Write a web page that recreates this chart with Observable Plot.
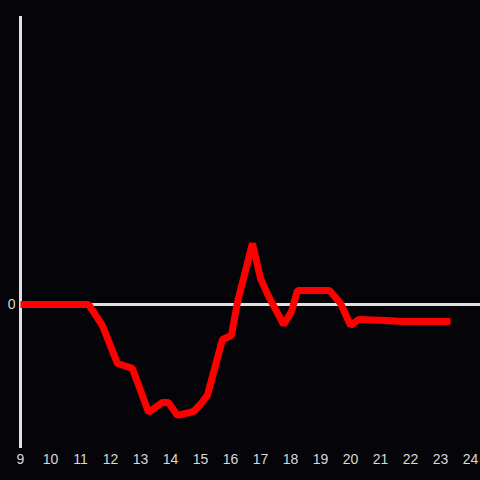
<!DOCTYPE html>
<html>
<head>
<meta charset="utf-8">
<script src="https://cdn.jsdelivr.net/npm/d3@7"></script>
<script src="https://cdn.jsdelivr.net/npm/@observablehq/plot@0.6"></script>
<style>
  html, body { margin: 0; padding: 0; background: #050408; }
  #chart { width: 480px; height: 480px; }
</style>
</head>
<body>
<div id="chart"></div>
<script>
const hours = [9, 11.27, 11.73, 12.23, 12.73, 13.27, 13.73, 13.93, 14.23, 14.77, 14.97, 15.23, 15.73, 16.03, 16.23, 16.73, 17.0, 17.27, 17.77, 18.03, 18.23, 19.3, 19.67, 20.0, 20.27, 21.17, 21.73, 23.33];
const values = [0, 0, -0.146, -0.41, -0.444, -0.75, -0.68, -0.68, -0.77, -0.743, -0.70, -0.63, -0.243, -0.215, 0.014, 0.424, 0.18, 0.056, -0.14, -0.05, 0.097, 0.097, 0.007, -0.146, -0.104, -0.111, -0.118, -0.118];
const xTicks = [9, 10, 11, 12, 13, 14, 15, 16, 17, 18, 19, 20, 21, 22, 23, 24];
const yTicks = [0];

const data = hours.map((h, i) => ({hour: h, value: values[i]}));

const chart = Plot.plot({
  width: 480,
  height: 480,
  marginLeft: 20,
  marginRight: 0,
  marginTop: 16,
  marginBottom: 32,
  style: {background: "#050408", color: "#d8d8d8", fontSize: "14px", fontFamily: "'Liberation Sans', Arial, sans-serif"},
  x: {domain: [9, 24.33], ticks: xTicks, tickFormat: d => String(d)},
  y: {domain: [-1, 2], ticks: yTicks, tickFormat: d => String(d)},
  marks: [
    Plot.ruleX([9], {stroke: "#e0e0e0", strokeWidth: 3}),
    Plot.ruleY([0], {stroke: "#e0e0e0", strokeWidth: 3}),
    Plot.axisX({ticks: xTicks, tickSize: 0, tickPadding: 6, label: null, fill: "#d8d8d8", tickFormat: d => String(d)}),
    Plot.axisY({ticks: yTicks, tickSize: 0, tickPadding: 5, label: null, fill: "#d8d8d8", tickFormat: d => String(d)}),
    Plot.line(data, {x: "hour", y: "value", stroke: "#ff0000", strokeWidth: 7, strokeLinecap: "butt", strokeLinejoin: "miter"})
  ]
});
document.getElementById("chart").appendChild(chart);
</script>
</body>
</html>
